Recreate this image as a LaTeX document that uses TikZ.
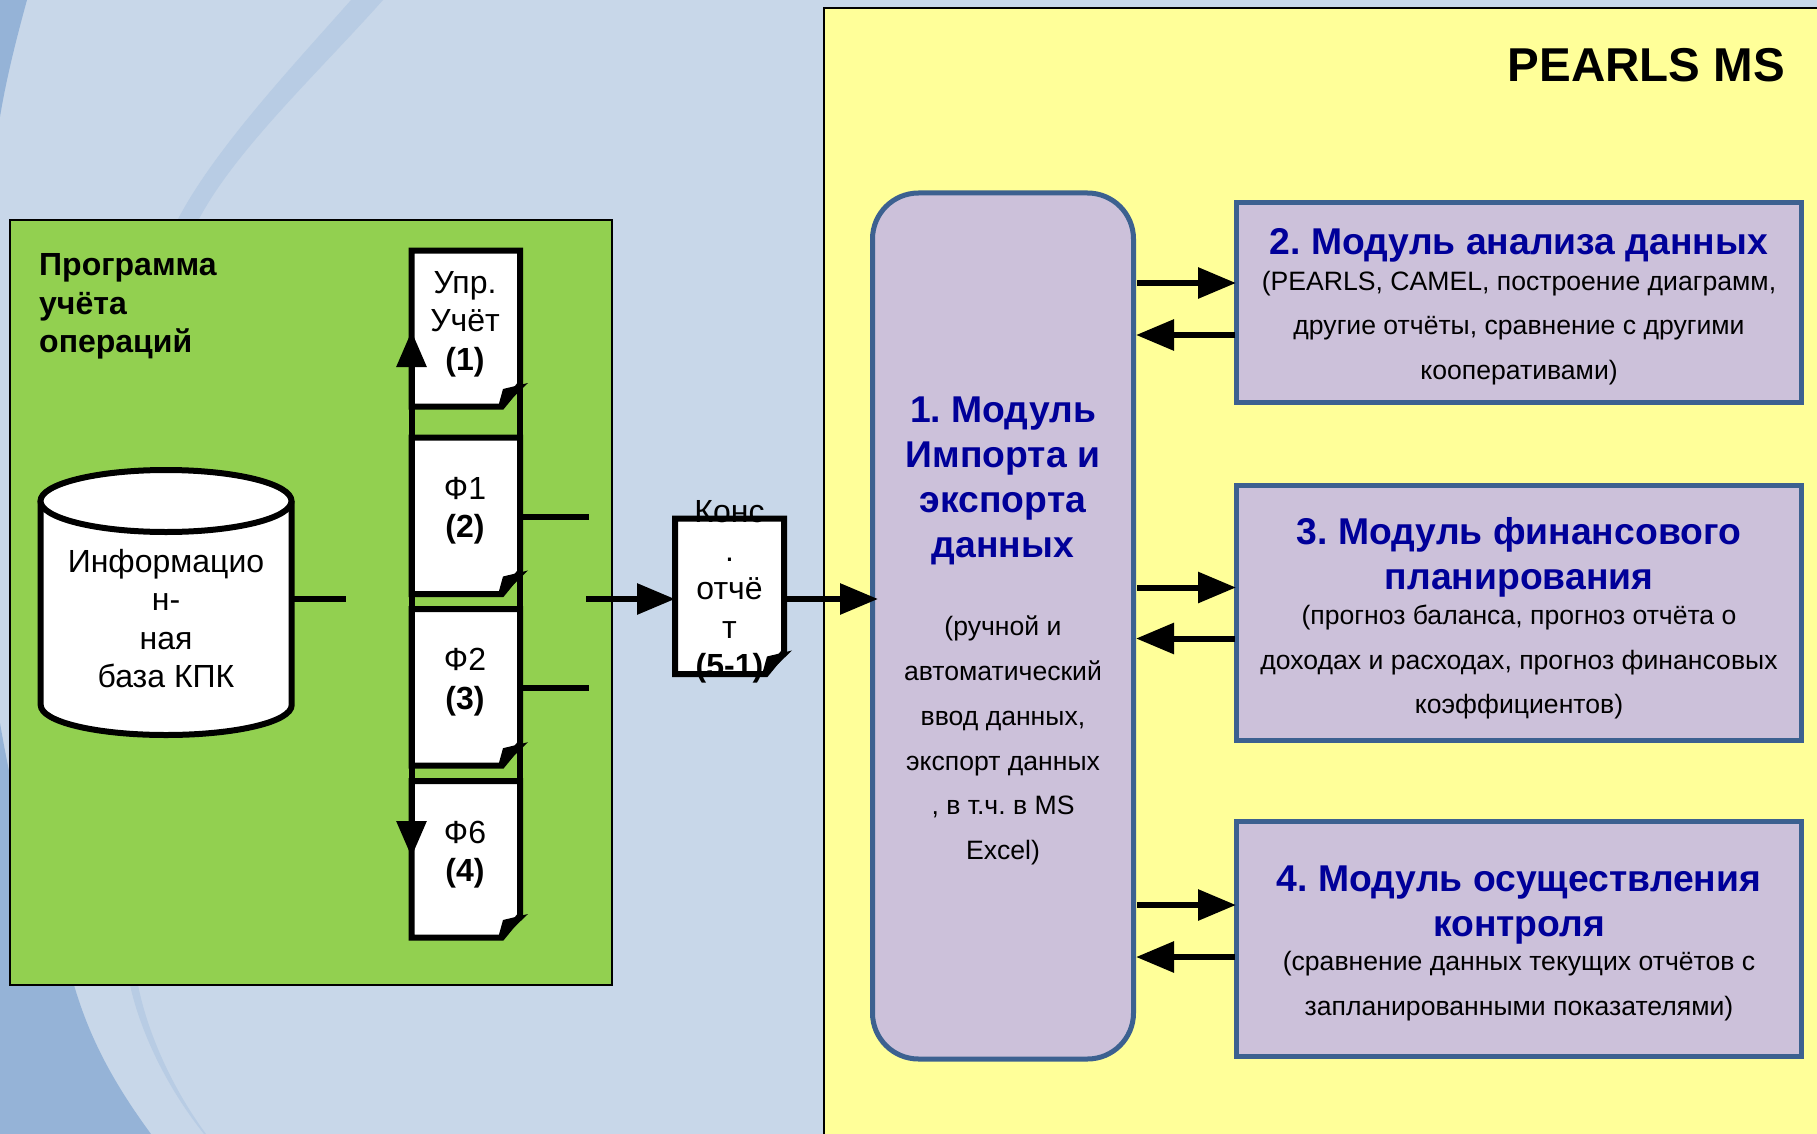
\documentclass[tikz,border=0pt]{standalone}
\usepackage{fontspec}
\setmainfont{Liberation Sans}
\usetikzlibrary{arrows.meta}
\frenchspacing
\definecolor{bgblue}{HTML}{C8D7E9}
\definecolor{bgdark}{HTML}{95B3D7}
\definecolor{bgband}{HTML}{B8CCE4}
\definecolor{prog}{HTML}{92D050}
\definecolor{pearls}{HTML}{FFFF99}
\definecolor{modfill}{HTML}{CCC1DA}
\definecolor{modline}{HTML}{3C6190}
\definecolor{headblue}{HTML}{000099}
\tikzset{
  panel/.style={draw=black,line width=2pt},
  modbox/.style={draw=modline,fill=modfill,line width=5pt,inner sep=0pt},
  docshape/.style={draw=black,fill=white,line width=6pt,miter limit=10},
  foldmark/.style={fill=black,draw=none},
  conn/.style={draw=black,line width=6pt},
  arrowA/.style={conn,-{Triangle[length=38pt,width=30pt]},shorten >=-1pt},
  arrowB/.style={conn,{Triangle[length=36pt,width=29pt]}-{Triangle[length=36pt,width=29pt]}},
  body/.style={align=center,inner sep=0pt,font=\fontsize{32}{38.5}\selectfont,text=black},
  small/.style={align=center,inner sep=0pt,font=\fontsize{26.6}{44.8}\selectfont,text=black},
  head/.style={align=center,inner sep=0pt,font=\fontsize{37.3}{45}\selectfont\bfseries,text=headblue},
}
\newcommand{\docsheet}[5]{% name, top, bottom, left, right
  \path[docshape] (#4,#2) -- (#5,#2) -- (#5,#3-22) -- (#5-18,#3) -- (#4,#3) -- cycle;
  \path[foldmark] (#5-19,#3+2.5) -- (#5+8,#3-23.5) -- (#5-17,#3-17.5) -- (#5-21,#3-3) -- cycle;
  \coordinate (#1) at (#5,{(#2+#3)/2});
}
\begin{document}
\begin{tikzpicture}[x=1pt,y=-1pt]
\useasboundingbox (0,0) rectangle (1817,1134);
% background
\fill[bgblue] (0,0) rectangle (1817,1134);
\fill[bgdark] (0,0) -- (27,0) .. controls (16,40) and (6,80) .. (0,117) -- cycle;
\fill[bgdark] (0,723) .. controls (20,840) and (50,930) .. (74,985) .. controls (90,1040) and (115,1085) .. (151,1134) -- (0,1134) -- cycle;
\fill[bgband] (351,0) .. controls (289,70) and (215,149) .. (178,219) -- (130,985) .. controls (140,1030) and (165,1085) .. (204,1134) -- (206,1134) .. controls (170,1085) and (147,1030) .. (138,985) -- (199,219) .. controls (236,149) and (321,70) .. (383,0) -- cycle;
% panels
\path[panel,fill=prog] (10,219.5) rectangle (612,984.5);
\path[panel,fill=pearls] (824,8) rectangle (1830,1150);
\node[anchor=base east,inner sep=0pt,font=\fontsize{47.5}{50}\selectfont\bfseries] (title) at (1785,82) {PEARLS MS};
\node[body,anchor=north west,align=left,font=\fontsize{32}{38.5}\selectfont\bfseries] (progt) at (39,253.5) {Программа\\учёта\\операций};
% database
\path[draw=black,fill=white,line width=6pt] (40.7,501) -- (40.7,705) .. controls (40.7,722) and (97,735) .. (166,735) .. controls (235,735) and (291.7,722) .. (291.7,705) -- (291.7,501);
\path[draw=black,fill=white,line width=6pt] (166,501) ellipse [x radius=125.5,y radius=31];
\node[body] (dbt) at (166,618.5) {Информацио\\н-\\ная\\база КПК};
\coordinate (dbR) at (291,599);
\coordinate (dbE) at (346,599);
% documents
\docsheet{d1}{250.5}{406.5}{411.5}{520}
\docsheet{d2}{437.7}{594}{411.5}{520}
\docsheet{d3}{609}{765.7}{411.5}{520}
\docsheet{d4}{781}{937.5}{411.5}{520}
\node[body] (d1t) at (465,324) {Упр.\\Учёт\\\textbf{(1)}};
\node[body] (d2t) at (465,510.5) {Ф1\\\textbf{(2)}};
\node[body] (d3t) at (465,682) {Ф2\\\textbf{(3)}};
\node[body] (d4t) at (465,854.5) {Ф6\\\textbf{(4)}};
% bus
\coordinate (busT) at (520,329);
\coordinate (busB) at (520,862);
\coordinate (arrT) at (411.5,331);
\coordinate (arrB) at (411.5,857);
\coordinate (o1) at (589,516.7);
\coordinate (o2) at (589,687.7);
\coordinate (o1s) at (520,516.7);
\coordinate (o2s) at (520,687.7);
\draw[conn] (busT) -- (busB);
\draw[arrowB] (arrT) -- (arrB);
\draw[conn] (o1s) -- (o1);
\draw[conn] (o2s) -- (o2);
\draw[conn] (dbR) -- (dbE);
% consolidated report
\docsheet{k}{518.5}{674}{675}{784}
\node[body] (kt) at (729.5,592) {Конс\\.\\отчё\\т\\\textbf{(5-1)}};
\coordinate (kIn0) at (586,599);
\coordinate (kIn) at (674,599);
\coordinate (kOut) at (785,599);
\coordinate (m1In) at (877,599);
% modules
\node[modbox,rounded corners=46pt,minimum width=261pt,minimum height=866pt] (m1) at (1003,626) {};
\node[modbox,minimum width=564.5pt,minimum height=200pt] (m2) at (1519,302.5) {};
\node[modbox,minimum width=564.5pt,minimum height=255pt] (m3) at (1519,612.5) {};
\node[modbox,minimum width=564.5pt,minimum height=235pt] (m4) at (1519,938.5) {};
\draw[arrowA] (kIn0) -- (kIn);
\draw[arrowA] (kOut) -- (m1In);
\node[head] (m1h) at (1003,481) {1. Модуль\\Импорта и\\экспорта\\данных};
\node[small] (m1s) at (1003,740.5) {(ручной и\\автоматический\\ввод данных,\\экспорт данных\\, в т.ч. в MS\\Excel)};
\node[head] (m2h) at (1519,245.5) {2. Модуль анализа данных};
\node[small] (m2s) at (1519,328) {(PEARLS, CAMEL, построение диаграмм,\\другие отчёты, сравнение с другими\\кооперативами)};
\node[head] (m3h) at (1519,557) {3. Модуль финансового\\планирования};
\node[small] (m3s) at (1519,662) {(прогноз баланса, прогноз отчёта о\\доходах и расходах, прогноз финансовых\\коэффициентов)};
\node[head] (m4h) at (1519,905) {4. Модуль осуществления\\контроля};
\node[small] (m4s) at (1519,986.5) {(сравнение данных текущих отчётов с\\запланированными показателями)};
% module connectors
\coordinate (a1) at (1137,283); \coordinate (a2) at (1235,283);
\coordinate (b1) at (1235,335); \coordinate (b2) at (1137,335);
\coordinate (c1) at (1137,587.5); \coordinate (c2) at (1235,587.5);
\coordinate (e1) at (1235,638.5); \coordinate (e2) at (1137,638.5);
\coordinate (f1) at (1137,905); \coordinate (f2) at (1235,905);
\coordinate (g1) at (1235,957); \coordinate (g2) at (1137,957);
\draw[arrowA] (a1) -- (a2);
\draw[arrowA] (b1) -- (b2);
\draw[arrowA] (c1) -- (c2);
\draw[arrowA] (e1) -- (e2);
\draw[arrowA] (f1) -- (f2);
\draw[arrowA] (g1) -- (g2);
\end{tikzpicture}
\end{document}
